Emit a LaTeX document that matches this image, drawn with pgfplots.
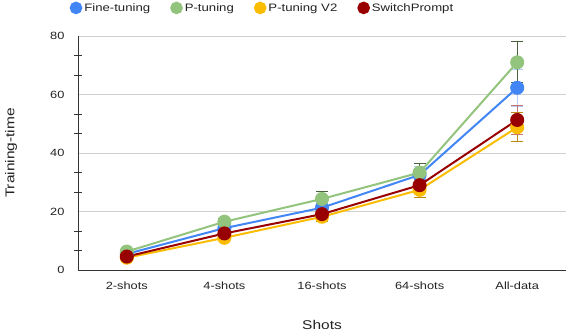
\documentclass[border=0pt]{standalone}
\usepackage{pgfplots}
\pgfplotsset{compat=1.18}
\usepackage{fontspec}
\setmainfont{Liberation Sans}[FakeStretch=1.22]

\definecolor{ftblue}{HTML}{4285F4}
\definecolor{ptgreen}{HTML}{93C47D}
\definecolor{ptyellow}{HTML}{FBBC04}
\definecolor{swred}{HTML}{990000}
\definecolor{gridgray}{HTML}{D0D0D0}
\definecolor{axisgray}{HTML}{333333}
\definecolor{txtgray}{HTML}{222222}

\pgfplotstableread{
x y e
0 5.5  0.5
1 14.3 1.0
2 21.3 1.5
3 32.5 3.0
4 62.3 6.3
}\finetune
\pgfplotstableread{
x y e
0 6.3  0.5
1 16.5 1.0
2 24.3 2.5
3 33.3 3.2
4 71.0 7.0
}\ptuning
\pgfplotstableread{
x y e
0 4.2  0.5
1 11.0 1.0
2 18.2 1.7
3 27.4 2.7
4 48.8 5.0
}\ptuningvtwo
\pgfplotstableread{
x y e
0 4.6  0.5
1 12.5 1.0
2 19.1 1.5
3 29.0 2.0
4 51.3 5.0
}\switchprompt

\begin{document}
\begin{tikzpicture}[font=\fontsize{10.5}{12.5}\selectfont]
  \path[use as bounding box] (-78pt,-62pt) rectangle (488pt,270pt);
  \begin{axis}[
    at={(0pt,0pt)}, anchor=south west,
    scale only axis,
    width=488pt, height=234pt,
    xmin=-0.5, xmax=4.5,
    ymin=0, ymax=80,
    xtick=data,
    xticklabels={2-shots, 4-shots, 16-shots, 64-shots, All-data},
    ytick={0,20,40,60,80},
    minor y tick num=2,
    major tick length=0pt,
    minor tick length=8pt,
    tick align=center,
    tick style={axisgray, line width=0.8pt},
    axis x line*=bottom,
    axis y line*=left,
    axis line style={axisgray, line width=0.9pt, -},
    ymajorgrids=true,
    grid style={gridgray, line width=0.8pt},
    ticklabel style={txtgray},
    xticklabel style={yshift=-8pt},
    yticklabel style={xshift=-10pt},
    xlabel={Shots},
    ylabel={Training-time},
    label style={txtgray, font=\fontsize{12.7}{14}\selectfont},
    xlabel style={at={(axis description cs:0.5,-0.235)}, anchor=center},
    ylabel style={at={(axis description cs:-0.137,0.5)}, anchor=center},
    /pgf/number format/assume math mode=true,
    legend columns=4,
    legend style={at={(0.378,1.12)}, anchor=center, draw=none, fill=none,
      font=\fontsize{10.8}{12.5}\selectfont, text=txtgray,
      /tikz/every even column/.append style={column sep=18pt}},
    legend cell align=left,
    legend image code/.code={\fill[#1] (0.25em,0) circle (5.3pt);},
    every axis plot/.append style={line width=2pt, mark=*, mark size=6pt},
    error bars/y dir=both,
    error bars/y explicit,
    error bars/error mark options={rotate=90, mark size=6pt, line width=1.2pt},
  ]
    \addplot[ftblue, mark options={fill=ftblue, draw=ftblue},
      error bars/error bar style={color=ftblue!40, line width=1.2pt}]
      table[x=x, y=y, y error=e] {\finetune};
    \addlegendentry{Fine-tuning}
    \addplot[ptgreen, mark options={fill=ptgreen, draw=ptgreen},
      error bars/error bar style={color=black!50!ptgreen, line width=1.2pt}]
      table[x=x, y=y, y error=e] {\ptuning};
    \addlegendentry{P-tuning}
    \addplot[ptyellow, mark options={fill=ptyellow, draw=ptyellow},
      error bars/error bar style={color=black!25!ptyellow!80!brown, line width=1.2pt}]
      table[x=x, y=y, y error=e] {\ptuningvtwo};
    \addlegendentry{P-tuning V2}
    \addplot[swred, mark options={fill=swred, draw=swred},
      error bars/error bar style={color=swred!55, line width=1.2pt}]
      table[x=x, y=y, y error=e] {\switchprompt};
    \addlegendentry{SwitchPrompt}
  \end{axis}
\end{tikzpicture}
\end{document}
